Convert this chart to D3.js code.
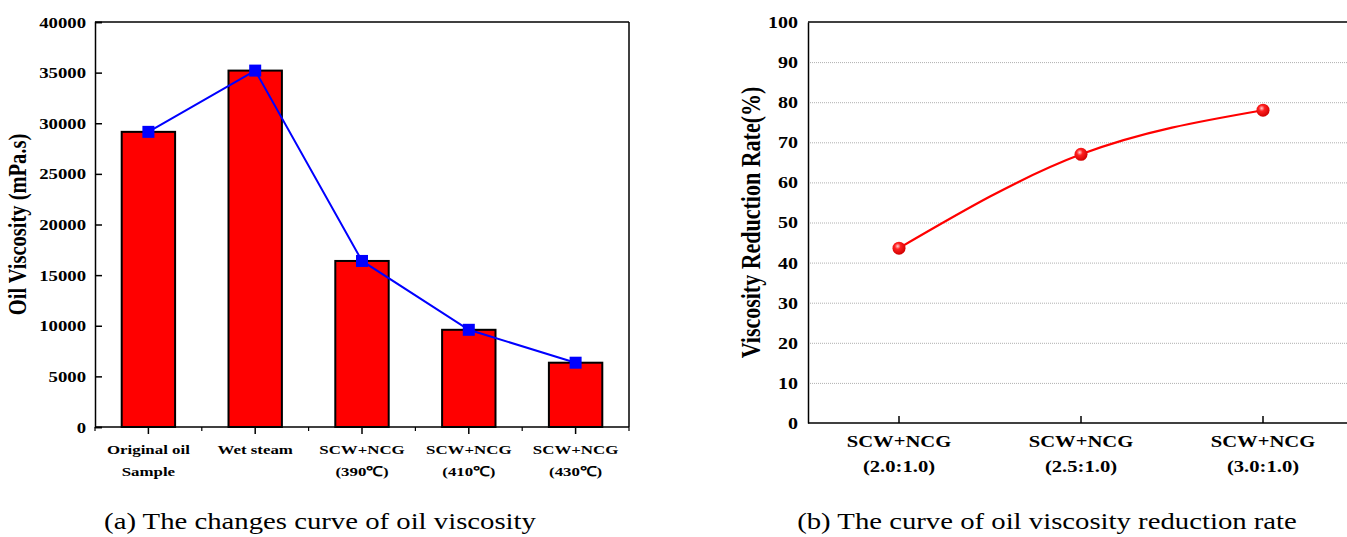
<html>
<head>
<meta charset="utf-8">
<title>Oil viscosity</title>
<style>
    body { margin: 0; padding: 0; background: white; }
    svg text { font-family: "Liberation Serif", "Times New Roman", Times, serif !important; fill: black; }
    .grid line { stroke: #b0b0b0; stroke-dasharray: 1,1; }
</style>
</head>
<body>
<div id="chart"></div>
<script src="https://d3js.org/d3.v7.min.js"></script>
<script>
// (a) oil viscosity
var viscCats = [["Original oil", "Sample"], ["Wet steam"], ["SCW+NCG", "(390\u2103)"], ["SCW+NCG", "(410\u2103)"], ["SCW+NCG", "(430\u2103)"]];
var viscValues = [29150, 35200, 16400, 9600, 6350];
var viscTicks = [0, 5000, 10000, 15000, 20000, 25000, 30000, 35000, 40000];

// (b) reduction rate
var rateCats = [["SCW+NCG", "(2.0:1.0)"], ["SCW+NCG", "(2.5:1.0)"], ["SCW+NCG", "(3.0:1.0)"]];
var rateValues = [43.6, 67, 78];
var rateTicks = [0, 10, 20, 30, 40, 50, 60, 70, 80, 90, 100];

var W = 1347, H = 537;
var SX = 1.25; // the source figure's lettering is wider than it is tall
var serif = "'Liberation Serif', 'Times New Roman', serif";
var svg = d3.select("#chart").append("svg").attr("width", W).attr("height", H).attr("font-family", serif);

// text block centred at (x, y) with stacked lines, stretched horizontally
function label(parent, x, y, lines, size, bold, lineH) {
    var g = parent.append("g").attr("transform", "translate(" + x + "," + y + ") scale(" + SX + ",1)");
    var t = g.append("text").attr("text-anchor", "middle").attr("font-size", size)
        .attr("font-weight", bold ? "bold" : "normal");
    lines.forEach(function (s, k) {
        t.append("tspan").attr("x", 0).attr("dy", k === 0 ? 0 : lineH).text(s);
    });
    return g;
}

// ---------- left chart ----------
var a = { left: 95, right: 629, top: 22, bottom: 427 };
var xa = d3.scaleBand().domain(d3.range(viscValues.length)).range([a.left, a.right]).paddingInner(0.5).paddingOuter(0.25);
var ya = d3.scaleLinear().domain([0, 40000]).range([a.bottom, a.top]);

var ga = svg.append("g");

ga.append("line").attr("x1", a.left).attr("x2", a.right).attr("y1", a.top).attr("y2", a.top).attr("stroke", "black").attr("stroke-width", 1.5);
ga.append("line").attr("x1", a.right).attr("x2", a.right).attr("y1", a.top).attr("y2", a.bottom).attr("stroke", "black").attr("stroke-width", 1.5);

ga.selectAll("rect.bar").data(viscValues).enter().append("rect")
    .attr("class", "bar")
    .attr("x", function (d, i) { return xa(i); })
    .attr("width", xa.bandwidth())
    .attr("y", function (d) { return ya(d); })
    .attr("height", function (d) { return a.bottom - ya(d); })
    .attr("fill", "#ff0000")
    .attr("stroke", "black")
    .attr("stroke-width", 2);

// y axis: ticks point inward
var yAxisA = ga.append("g").attr("transform", "translate(" + a.left + ",0)")
    .call(d3.axisLeft(ya).tickValues(viscTicks).tickSize(-7).tickPadding(0).tickFormat(d3.format("d")));
yAxisA.attr("font-family", serif);
yAxisA.select(".domain").attr("stroke-width", 1.5);
yAxisA.selectAll(".tick line").attr("stroke-width", 1.5);
yAxisA.selectAll(".tick text")
    .attr("font-size", 15).attr("font-weight", "bold")
    .attr("x", -9 / SX).attr("dy", "0.34em")
    .attr("transform", "scale(" + SX + ",1)");

var step = xa.step();
var xAxisA = ga.append("g").attr("transform", "translate(0," + a.bottom + ")");
xAxisA.append("line").attr("x1", a.left).attr("x2", a.right).attr("stroke", "black").attr("stroke-width", 1.5);
xAxisA.selectAll("line.major").data(viscValues).enter().append("line")
    .attr("x1", function (d, i) { return xa(i) + xa.bandwidth() / 2; })
    .attr("x2", function (d, i) { return xa(i) + xa.bandwidth() / 2; })
    .attr("y1", 0).attr("y2", 7).attr("stroke", "black").attr("stroke-width", 1.5);
xAxisA.selectAll("line.minor").data(d3.range(viscValues.length + 1)).enter().append("line")
    .attr("x1", function (i) { return a.left + i * step; })
    .attr("x2", function (i) { return a.left + i * step; })
    .attr("y1", 0).attr("y2", 4).attr("stroke", "black").attr("stroke-width", 1.2);

viscCats.forEach(function (d, i) {
    label(xAxisA, xa(i) + xa.bandwidth() / 2, 27, d, 13.5, true, 22);
});

// blue line + squares
var lineA = d3.line()
    .x(function (d, i) { return xa(i) + xa.bandwidth() / 2; })
    .y(function (d) { return ya(d); });
ga.append("path").datum(viscValues).attr("d", lineA).attr("fill", "none").attr("stroke", "#0000ff").attr("stroke-width", 2);
ga.selectAll("rect.mk").data(viscValues).enter().append("rect")
    .attr("class", "mk")
    .attr("x", function (d, i) { return xa(i) + xa.bandwidth() / 2 - 6; })
    .attr("y", function (d) { return ya(d) - 6; })
    .attr("width", 12).attr("height", 12)
    .attr("fill", "#0000ff");

ga.append("text")
    .attr("transform", "translate(26," + (a.top + a.bottom) / 2 + ") scale(" + SX + ",1) rotate(-90)")
    .attr("text-anchor", "middle").attr("font-size", 20.5).attr("font-weight", "bold")
    .text("Oil Viscosity (mPa.s)");

label(ga, 320, 529, ["(a) The changes curve of oil viscosity"], 23, false, 0);

// ---------- right chart ----------
var b = { left: 808, right: 1354, top: 22, bottom: 423 };
var xb = d3.scalePoint().domain(d3.range(rateValues.length)).range([b.left, b.right]).padding(0.5);
var yb = d3.scaleLinear().domain([0, 100]).range([b.bottom, b.top]);

var gb = svg.append("g");

var defs = svg.append("defs");
var grad = defs.append("radialGradient").attr("id", "ball").attr("cx", "40%").attr("cy", "35%").attr("r", "65%");
grad.append("stop").attr("offset", "0%").attr("stop-color", "#ffd0d0");
grad.append("stop").attr("offset", "35%").attr("stop-color", "#ff2020");
grad.append("stop").attr("offset", "100%").attr("stop-color", "#d00000");

gb.append("g").attr("class", "grid")
    .attr("transform", "translate(" + b.left + ",0)")
    .call(d3.axisLeft(yb).tickValues(rateTicks.slice(1, -1)).tickSize(-(b.right - b.left)).tickFormat(""))
    .select(".domain").remove();

gb.append("line").attr("x1", b.left).attr("x2", b.right).attr("y1", b.top).attr("y2", b.top).attr("stroke", "black").attr("stroke-width", 1.5);

var yAxisB = gb.append("g").attr("transform", "translate(" + b.left + ",0)")
    .call(d3.axisLeft(yb).tickValues(rateTicks).tickSize(0).tickPadding(0));
yAxisB.attr("font-family", serif);
yAxisB.select(".domain").attr("stroke-width", 1.5);
yAxisB.selectAll(".tick text")
    .attr("font-size", 16).attr("font-weight", "bold")
    .attr("x", -10 / SX).attr("dy", "0.34em")
    .attr("transform", "scale(" + SX + ",1)");

var xAxisB = gb.append("g").attr("transform", "translate(0," + b.bottom + ")");
xAxisB.append("line").attr("x1", b.left).attr("x2", b.right).attr("stroke", "black").attr("stroke-width", 1.5);
xAxisB.selectAll("line.tk").data(rateValues).enter().append("line")
    .attr("x1", function (d, i) { return xb(i); })
    .attr("x2", function (d, i) { return xb(i); })
    .attr("y1", 0).attr("y2", -7).attr("stroke", "black").attr("stroke-width", 1.5);
rateCats.forEach(function (d, i) {
    label(xAxisB, xb(i), 24, d, 16.5, true, 25);
});

var lineB = d3.line()
    .x(function (d, i) { return xb(i); })
    .y(function (d) { return yb(d); })
    .curve(d3.curveNatural);
gb.append("path").datum(rateValues).attr("d", lineB).attr("fill", "none").attr("stroke", "#ff0000").attr("stroke-width", 2.2);
gb.selectAll("circle.pt").data(rateValues).enter().append("circle")
    .attr("class", "pt")
    .attr("cx", function (d, i) { return xb(i); })
    .attr("cy", function (d) { return yb(d); })
    .attr("r", 6.5)
    .attr("fill", "url(#ball)");

gb.append("text")
    .attr("transform", "translate(760," + (b.top + b.bottom) / 2 + ") scale(" + SX + ",1) rotate(-90)")
    .attr("text-anchor", "middle").attr("font-size", 22).attr("font-weight", "bold")
    .text("Viscosity Reduction Rate(%)");

label(gb, 1047, 529, ["(b) The curve of oil viscosity reduction rate"], 23, false, 0);
</script>
</body>
</html>
